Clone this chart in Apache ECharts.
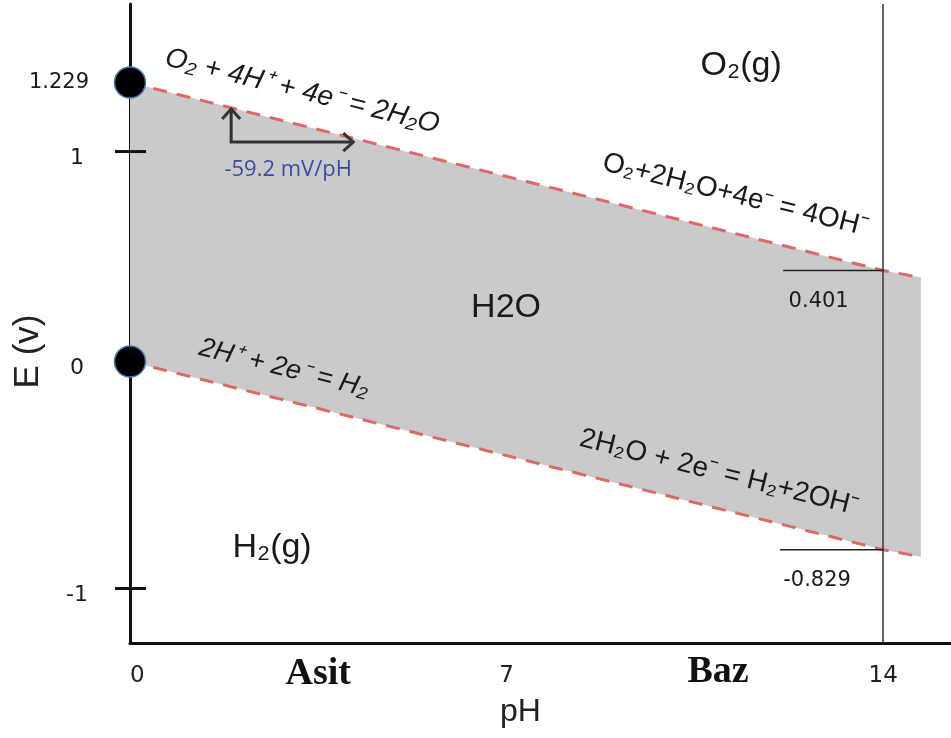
<!DOCTYPE html>
<html><head><meta charset="utf-8">
<script src="https://cdn.jsdelivr.net/npm/echarts@6/dist/echarts.min.js"></script>
<style>html,body{margin:0;padding:0;background:#fff}#c{width:951px;height:738px}</style>
</head><body><div id="c"></div>
<script>
// ---- data ----
const pHPoints = [0, 14, 14.7];
const eUpper = [1.229, 0.401, 0.37];
const eLower = [0, -0.829, -0.86];
const xTickValues = [0, 7, 14];
const yTickValues = [1.229, 0.925, 0, -1];
const yTickLabels = ['1.229', '1', '0', '-1'];
const yTickMarked = [false, true, false, true];
const refLevelE = [0.401, -0.829];
const refLevelFrom = [12.14, 12.08];
const refLevelTo = 14;
const refLevelLabels = ['0.401', '-0.829'];
const dotPoints = [[0, 1.229], [0, 0]];
const arrowCorner = [1.88, 0.967];
const arrowUpTip = [1.88, 1.112];
const arrowRightTip = [4.15, 0.967];
const regionNames = ['O\u2082(g)', 'H2O', 'H\u2082(g)'];
const regionAt = [[11.36, 1.302], [6.99, 0.236], [2.64, -0.822]];
const equations = [
  'O\u2082 + 4H\u207A + 4e\u207B = 2H\u2082O',
  'O\u2082+2H\u2082O+4e\u207B = 4OH\u207B',
  '2H\u207A + 2e\u207B = H\u2082',
  '2H\u2082O + 2e\u207B = H\u2082+2OH\u207B'
];
const equationAt = [[3.2, 1.19], [11.25, 0.733], [2.86, -0.03], [10.95, -0.49]];
const slopeNote = '-59.2 mV/pH';
const slopeNoteAt = [2.94, 0.845];
const sideNames = ['Asit', 'Baz'];
const sideAt = [[3.5, -1.378], [10.93, -1.368]];

// ---- styles ----
const eqStyle = [
  {size: 28, italic: true}, {size: 28, italic: false},
  {size: 27, italic: true}, {size: 28, italic: false}
];
const eqAngle = 14 * Math.PI / 180;

const upperLine = pHPoints.map((x, i) => [x, eUpper[i]]);
const lowerLine = pHPoints.map((x, i) => [x, eLower[i]]);

const chart = echarts.init(document.getElementById('c'));

function textEl(pt, text, opt) {
  return {
    type: 'text', x: pt[0] + (opt.dx || 0), y: pt[1] + (opt.dy || 0), rotation: opt.rotation || 0,
    style: {
      text: text, fill: opt.color || '#1a1a1a',
      fontSize: opt.size, fontFamily: opt.family || '"DejaVu Sans", sans-serif',
      fontWeight: opt.weight || 'normal', fontStyle: opt.italic ? 'italic' : 'normal',
      align: opt.align || 'center', verticalAlign: 'middle'
    }
  };
}

const dashStyle = {color: '#db6a66', width: 3, type: [14, 10]};

const option = {
  animation: false,
  backgroundColor: '#ffffff',
  grid: {left: 130, right: 0, top: 4, bottom: 95},
  xAxis: {
    type: 'value', min: 0, max: 15.26, interval: 7,
    axisLine: {onZero: false, lineStyle: {color: '#111', width: 3}},
    axisTick: {show: false}, splitLine: {show: false},
    axisLabel: {showMaxLabel: false, alignMinLabel: 'left', margin: 22, fontSize: 23, color: '#222', fontFamily: '"DejaVu Sans", sans-serif'},
    name: 'pH', nameLocation: 'middle', nameGap: 53,
    nameTextStyle: {fontSize: 32, color: '#222', fontFamily: '"Liberation Sans", sans-serif', padding: [0, 40, 0, 0]}
  },
  yAxis: {
    type: 'value', min: -1.24, max: 1.575,
    axisLine: {onZero: false, lineStyle: {color: '#111', width: 3}},
    axisTick: {show: false}, splitLine: {show: false}, axisLabel: {show: false},
    name: 'E (v)', nameLocation: 'middle', nameGap: 84,
    nameTextStyle: {fontSize: 35, color: '#222', fontFamily: '"Liberation Sans", sans-serif', padding: [0, 56, 0, 0]}
  },
  series: [
    { // water stability region
      type: 'custom', silent: true, z: 1,
      data: [0],
      renderItem: function (params, api) {
        const pts = upperLine.map(p => api.coord(p)).concat(lowerLine.slice().reverse().map(p => api.coord(p)));
        return {type: 'polygon', shape: {points: pts}, style: {fill: '#cacaca'}};
      }
    },
    {
      type: 'line', data: upperLine, showSymbol: false, z: 3,
      lineStyle: dashStyle,
      markLine: {
        silent: true, symbol: 'none', label: {show: false},
        lineStyle: {color: '#333', width: 1.5, type: 'solid'},
        data: [{xAxis: refLevelTo}]
      }
    },
    {
      type: 'line', data: lowerLine, showSymbol: false, z: 3,
      lineStyle: dashStyle
    },
    { // reference levels at pH 14
      type: 'custom', z: 4, clip: false,
      data: refLevelE.map((e, i) => [refLevelFrom[i], e]),
      renderItem: function (params, api) {
        const i = params.dataIndex;
        const a = api.coord([refLevelFrom[i], refLevelE[i]]);
        const b = api.coord([refLevelTo, refLevelE[i]]);
        const mid = api.coord([(refLevelFrom[i] + refLevelTo) / 2 - 0.27, refLevelE[i]]);
        return {type: 'group', children: [
          {type: 'line', shape: {x1: a[0], y1: a[1], x2: b[0], y2: b[1]}, style: {stroke: '#222', lineWidth: 1.5}},
          textEl([mid[0], mid[1] + 31], refLevelLabels[i], {size: 21})
        ]};
      }
    },
    { // y tick marks and labels
      type: 'custom', z: 5, clip: false,
      data: yTickValues.map(v => [0, v]),
      renderItem: function (params, api) {
        const i = params.dataIndex;
        const c = api.coord([0, yTickValues[i]]);
        const kids = [];
        if (yTickMarked[i]) kids.push({type: 'line', shape: {x1: c[0] - 15, y1: c[1], x2: c[0] + 16, y2: c[1]}, style: {stroke: '#111', lineWidth: 3}});
        if (i === 0) kids.push(textEl([c[0] - 41, c[1]], yTickLabels[i], {size: 21, align: 'right'}));
        else kids.push(textEl([c[0] - 53, c[1] + 7], yTickLabels[i], {size: 22}));
        return {type: 'group', children: kids};
      }
    },
    { // points on axis
      type: 'scatter', data: dotPoints, symbolSize: 31, z: 6, clip: false,
      itemStyle: {color: '#000', opacity: 1, borderColor: '#4a78b0', borderWidth: 1.5}
    },
    { // slope arrow
      type: 'custom', z: 5, clip: false, data: [0],
      renderItem: function (params, api) {
        const c = api.coord(arrowCorner), u = api.coord(arrowUpTip), r = api.coord(arrowRightTip);
        const st = {stroke: '#333', lineWidth: 3, fill: null};
        return {type: 'group', children: [
          {type: 'polyline', shape: {points: [u, c, r]}, style: st},
          {type: 'polyline', shape: {points: [[u[0] - 9, u[1] + 10], u, [u[0] + 9, u[1] + 10]]}, style: st},
          {type: 'polyline', shape: {points: [[r[0] - 10, r[1] - 9], r, [r[0] - 10, r[1] + 9]]}, style: st},
          textEl(api.coord(slopeNoteAt), slopeNote, {size: 22, color: '#3b4da3', family: '"Open Sans", sans-serif'})
        ]};
      }
    },
    { // region names
      type: 'custom', z: 5, clip: false, data: regionAt,
      renderItem: function (params, api) {
        return textEl(api.coord(regionAt[params.dataIndex]), regionNames[params.dataIndex], {size: 34, family: '"Liberation Sans", sans-serif'});
      }
    },
    { // equations
      type: 'custom', z: 5, clip: false, data: equationAt,
      renderItem: function (params, api) {
        const i = params.dataIndex;
        return textEl(api.coord(equationAt[i]), equations[i], {size: eqStyle[i].size, italic: eqStyle[i].italic, rotation: -eqAngle, family: '"Liberation Sans", sans-serif'});
      }
    },
    { // acid / base labels
      type: 'custom', z: 5, clip: false, data: sideAt,
      renderItem: function (params, api) {
        return textEl(api.coord(sideAt[params.dataIndex]), sideNames[params.dataIndex], {size: 38, weight: 'bold', family: '"Liberation Serif", serif', color: '#111'});
      }
    }
  ]
};
chart.setOption(option);
</script></body></html>
